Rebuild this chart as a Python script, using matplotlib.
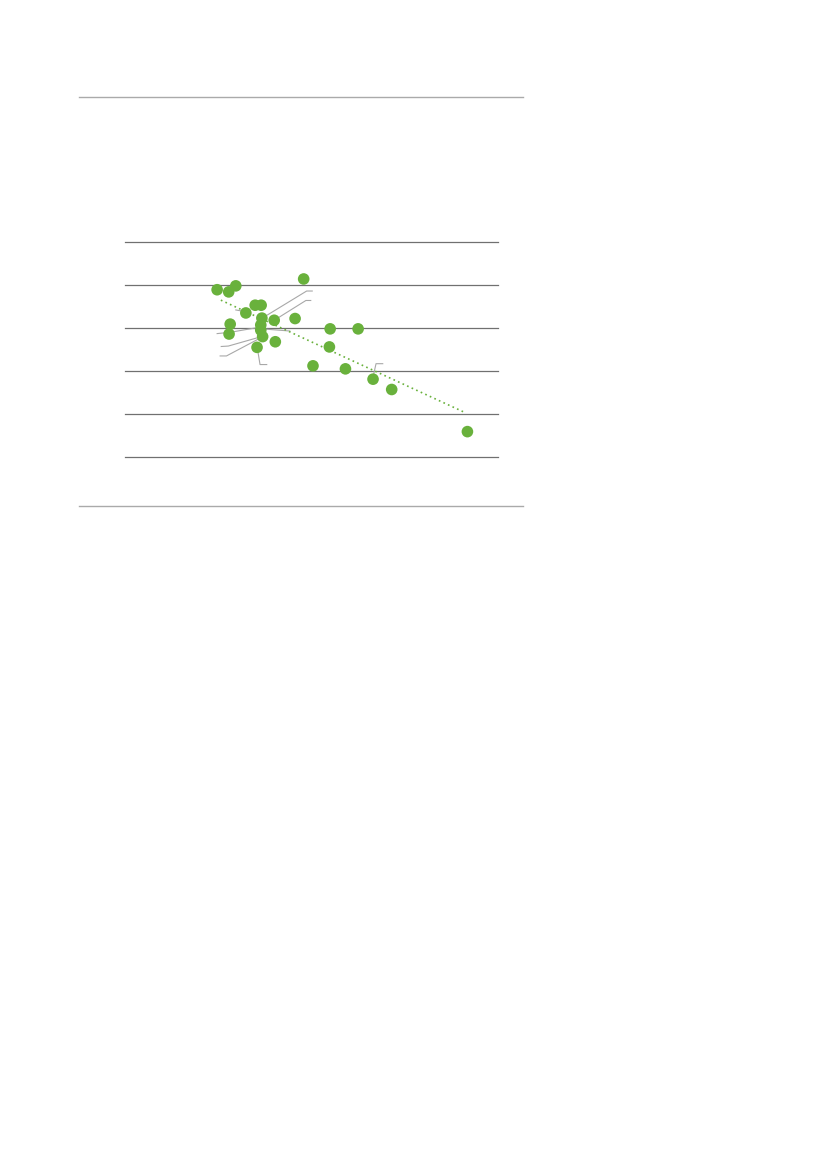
import matplotlib.pyplot as plt
import numpy as np

# Point data (x, y)
x_vals = [24.7, 27.8, 29.7, 47.9, 34.9, 36.5, 32.4, 36.7, 40.0, 45.6, 28.2, 27.9,
          36.4, 36.4, 36.9, 55.0, 62.5, 40.3, 35.4, 54.8, 50.4, 59.1, 66.5, 71.5, 91.8]
y_vals = [38.9, 38.4, 39.8, 41.4, 35.3, 35.3, 33.5, 32.3, 31.8, 32.2, 30.9, 28.6,
          30.7, 29.5, 28.0, 29.8, 29.8, 26.8, 25.5, 25.6, 21.2, 20.5, 18.1, 15.7, 5.9]

# leader lines (label connectors, labels themselves are absent)
leaders = [
    [(36.8, 32.3), (48.7, 38.6), (50.2, 38.6)],
    [(40.2, 31.9), (48.5, 36.4), (49.8, 36.4)],
    [(36.7, 29.8), (44.2, 29.3)],
    [(36.2, 30.2), (28.2, 29.0), (24.7, 28.7)],
    [(36.6, 28.0), (27.7, 25.8), (25.8, 25.7)],
    [(37.0, 28.0), (27.2, 23.5), (25.5, 23.5)],
    [(35.5, 25.2), (36.2, 21.5), (38.0, 21.5)],
    [(66.6, 19.0), (67.3, 21.7), (69.1, 21.7)],
    [(29.7, 34.2), (32.2, 33.8)],
]

y_grid = [0, 10, 20, 30, 40, 50]

green = '#69b13c'

fig = plt.figure(figsize=(8.27, 11.69), dpi=100)

# thin separators above and below the chart
for ypx in (97, 506):
    fig.add_artist(plt.Line2D([79 / 827, 523 / 827], [1 - ypx / 1169, 1 - ypx / 1169],
                              color='#aaaaaa', lw=1.0))

ax = fig.add_axes([125 / 827, 1 - 457 / 1169, (498 - 125) / 827, (457 - 242) / 1169])
ax.set_xlim(0, 100)
ax.set_ylim(0, 50)
for s in ax.spines.values():
    s.set_visible(False)
ax.set_xticks([])
ax.set_yticks([])
for g in y_grid:
    ax.axhline(g, color='#707070', lw=0.9, zorder=1, clip_on=False)

for seg in leaders:
    xs, ys = zip(*seg)
    ax.plot(xs, ys, color='#a8a8a8', lw=0.8, zorder=2, clip_on=False)

ax.scatter(x_vals, y_vals, s=70, color=green, edgecolors='none', zorder=3, clip_on=False)

# linear trend
k, b = np.polyfit(x_vals, y_vals, 1)
tx = np.array([min(x_vals) + 1.0, max(x_vals) - 0.6])
ax.plot(tx, k * tx + b, color=green, lw=1.2, ls=(0, (1, 2)), zorder=2)

fig.savefig('out.png', dpi=100)
